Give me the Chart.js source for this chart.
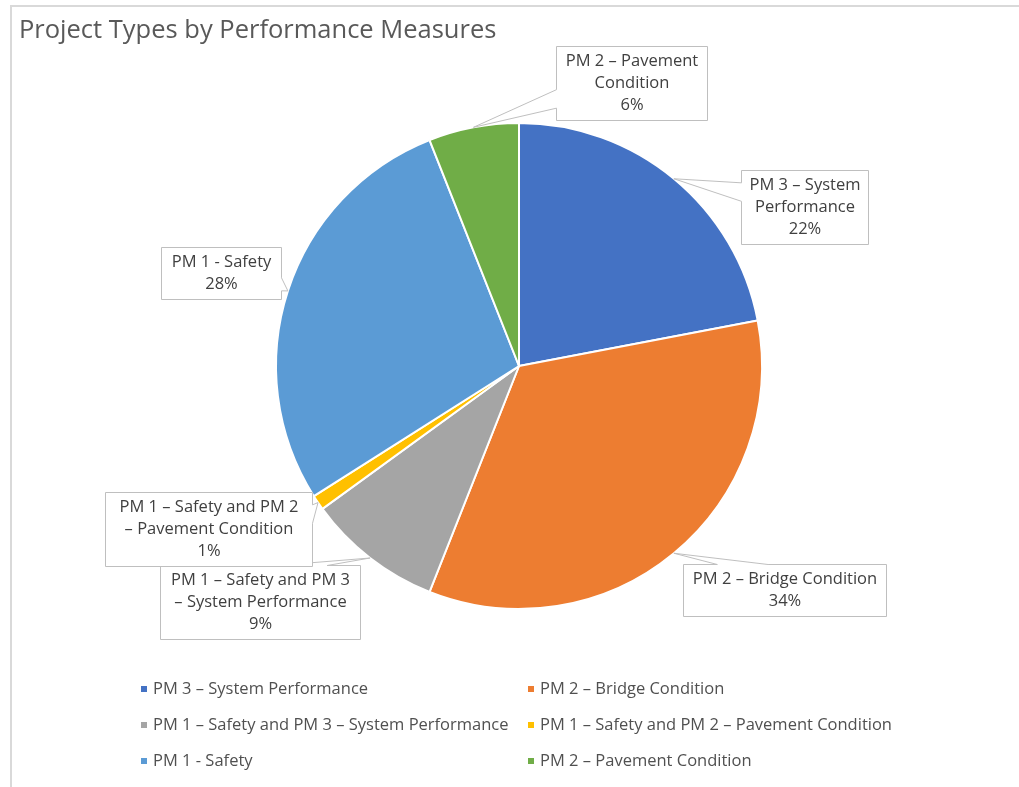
<!DOCTYPE html>
<html>
<head>
<meta charset="utf-8">
<title>Project Types by Performance Measures</title>
<script src="https://cdn.jsdelivr.net/npm/chart.js@4.4.1/dist/chart.umd.min.js"></script>
<style>
  html, body { margin: 0; padding: 0; background: #fff; }
  #wrap { width: 1019px; height: 787px; }
</style>
</head>
<body>
<div id="wrap"><canvas id="pieChart" width="1019" height="787"></canvas></div>
<script>
const chartTitle = 'Project Types by Performance Measures';
const categories = [
    'PM 3 – System Performance',
    'PM 2 – Bridge Condition',
    'PM 1 – Safety and PM 3 – System Performance',
    'PM 1 – Safety and PM 2 – Pavement Condition',
    'PM 1 - Safety',
    'PM 2 – Pavement Condition'
];
const shares = [22, 34, 9, 1, 28, 6];
const sliceColors = ['#4472C4', '#ED7D31', '#A5A5A5', '#FFC000', '#5B9BD5', '#70AD47'];

const FONT = '"Open Sans", Lato, sans-serif';

// callout box centre, relative to the rim point of its slice, and box width
const calloutOffsets = [[131, 28], [111, 37], [-110, 44], [-110, 26], [-67, -18], [158, -44]];
const calloutWidths = [127, 203, 200, 207, 120, 151];

// legend grid: two columns, three rows
const legendCols = [141, 528];
const legendRows = [689, 725, 761];

// word wrap; a dash travels with the word after it
function wrapText(ctx, text, maxWidth) {
    const words = text.replace(/ – /g, ' –\u00A0').split(' ');
    const lines = [];
    let line = '';
    words.forEach(w => {
        const test = line ? line + ' ' + w : w;
        if (line && ctx.measureText(test).width > maxWidth) {
            lines.push(line);
            line = w;
        } else {
            line = test;
        }
    });
    if (line) lines.push(line);
    return lines;
}

// box outline with a wedge pointing at (tx, ty)
function calloutPath(ctx, l, t, w, h, tx, ty) {
    const cx = l + w / 2, cy = t + h / 2;
    const nx = (tx - cx) / (w / 2), ny = (ty - cy) / (h / 2);
    let side;
    if (Math.abs(nx) > Math.abs(ny)) side = nx > 0 ? 'right' : 'left';
    else side = ny > 0 ? 'bottom' : 'top';
    const frac = (pos, start, len) => pos < start + len / 2 ? [2 / 12, 5 / 12] : [7 / 12, 10 / 12];

    ctx.beginPath();
    ctx.moveTo(l, t);
    if (side === 'top') {
        const f = frac(tx, l, w);
        ctx.lineTo(l + w * f[0], t);
        ctx.lineTo(tx, ty);
        ctx.lineTo(l + w * f[1], t);
    }
    ctx.lineTo(l + w, t);
    if (side === 'right') {
        const f = frac(ty, t, h);
        ctx.lineTo(l + w, t + h * f[0]);
        ctx.lineTo(tx, ty);
        ctx.lineTo(l + w, t + h * f[1]);
    }
    ctx.lineTo(l + w, t + h);
    if (side === 'bottom') {
        const f = frac(tx, l, w);
        ctx.lineTo(l + w * f[1], t + h);
        ctx.lineTo(tx, ty);
        ctx.lineTo(l + w * f[0], t + h);
    }
    ctx.lineTo(l, t + h);
    if (side === 'left') {
        const f = frac(ty, t, h);
        ctx.lineTo(l, t + h * f[1]);
        ctx.lineTo(tx, ty);
        ctx.lineTo(l, t + h * f[0]);
    }
    ctx.closePath();
}

const decorPlugin = {
    id: 'decor',
    beforeDraw(chart) {
        const ctx = chart.ctx;
        ctx.save();
        // panel frame
        ctx.strokeStyle = '#d9d9d9';
        ctx.lineWidth = 2;
        ctx.beginPath();
        ctx.moveTo(1019, 6);
        ctx.lineTo(11, 6);
        ctx.lineTo(11, 787);
        ctx.stroke();
        // title
        ctx.fillStyle = '#595959';
        ctx.font = '25.5px ' + FONT;
        ctx.textBaseline = 'middle';
        ctx.textAlign = 'left';
        ctx.fillText(chartTitle, 19, 31);
        ctx.restore();
    },
    afterDatasetsDraw(chart) {
        const ctx = chart.ctx;
        const arcs = chart.getDatasetMeta(0).data;
        ctx.save();
        ctx.font = '16.5px ' + FONT;
        arcs.forEach((arc, i) => {
            const mid = (arc.startAngle + arc.endAngle) / 2;
            const ax = arc.x + Math.cos(mid) * arc.outerRadius;
            const ay = arc.y + Math.sin(mid) * arc.outerRadius;
            const w = calloutWidths[i];
            const lines = wrapText(ctx, categories[i], w - 6).concat(shares[i] + '%');
            const lh = 22;
            const h = lines.length * lh + 8;
            const cx = ax + calloutOffsets[i][0];
            const cy = ay + calloutOffsets[i][1];
            const l = Math.round(cx - w / 2) + 0.5;
            const t = Math.round(cy - h / 2) + 0.5;
            calloutPath(ctx, l, t, w, h, ax, ay);
            ctx.fillStyle = '#ffffff';
            ctx.fill();
            ctx.strokeStyle = '#bfbfbf';
            ctx.lineWidth = 1;
            ctx.stroke();
            ctx.fillStyle = '#404040';
            ctx.textAlign = 'center';
            ctx.textBaseline = 'middle';
            const top = t + h / 2 - (lines.length - 1) * lh / 2;
            lines.forEach((s, k) => ctx.fillText(s, l + w / 2, top + k * lh));
        });
        ctx.restore();
    },
    afterDraw(chart) {
        const ctx = chart.ctx;
        ctx.save();
        ctx.font = '16.5px ' + FONT;
        ctx.textBaseline = 'middle';
        ctx.textAlign = 'left';
        categories.forEach((name, i) => {
            const x = legendCols[i % 2];
            const y = legendRows[Math.floor(i / 2)];
            ctx.fillStyle = sliceColors[i];
            ctx.fillRect(x, y - 3, 6, 6);
            ctx.fillStyle = '#505050';
            ctx.fillText(name, x + 12, y);
        });
        ctx.restore();
    }
};

new Chart(document.getElementById('pieChart'), {
    type: 'pie',
    data: {
        labels: categories,
        datasets: [{
            data: shares,
            backgroundColor: sliceColors,
            borderColor: '#ffffff',
            borderWidth: 2
        }]
    },
    options: {
        responsive: false,
        animation: false,
        layout: {
            padding: { left: 275, top: 122, right: 256, bottom: 177 }
        },
        plugins: {
            legend: { display: false },
            title: { display: false },
            tooltip: { enabled: false }
        }
    },
    plugins: [decorPlugin]
});
</script>
</body>
</html>
